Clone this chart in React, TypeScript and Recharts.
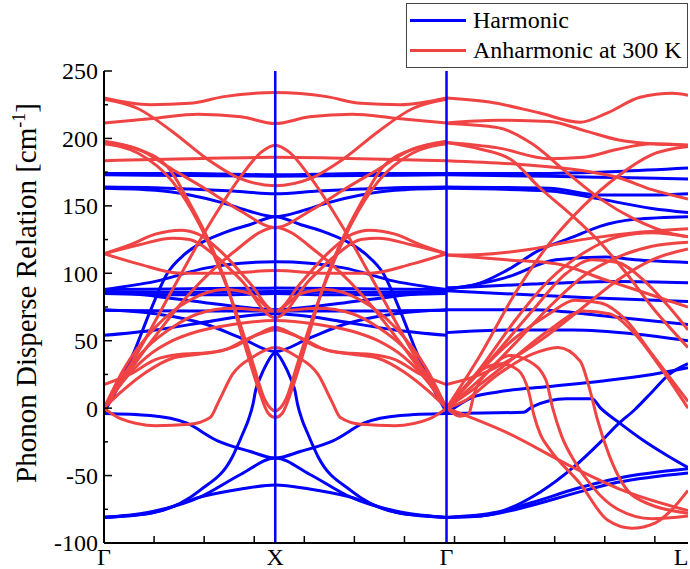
import React from 'react';
import { LineChart, Line, XAxis, YAxis, ReferenceLine } from 'recharts';

type Pt = [number, number];

// high-symmetry points along the path (x position) and their labels
const kPoints = [0, 1, 2, 3.41];
const kLabels = ['Γ', 'X', 'Γ', 'L'];
const yTicks = [-100, -75, -50, -25, 0, 25, 50, 75, 100, 125, 150, 175, 200, 225, 250];

// Γ -> X (X -> Γ is its mirror image)
const harmonicGX: Pt[][] = [
  [[0, 174], [0.5, 174], [1, 173]],
  [[0, 173], [0.5, 172.5], [1, 172]],
  [[0, 164], [0.3, 163.5], [0.5, 162.5], [0.75, 161], [1, 159]],
  [[0, 163], [0.3, 161.5], [0.5, 158], [0.7, 152], [0.85, 146], [1, 142]],
  [[0, -3], [0.08, 15], [0.17, 40], [0.27, 72], [0.37, 100], [0.47, 114], [0.56, 122], [0.7, 130], [0.85, 136], [1, 142]],
  [[0, 88], [0.3, 94], [0.6, 104], [0.8, 107.5], [1, 108.5]],
  [[0, 88], [0.5, 88.5], [1, 89]],
  [[0, 86], [0.5, 86], [1, 86.5]],
  [[0, 85], [0.4, 84], [0.7, 84], [1, 85]],
  [[0, 87], [0.3, 83], [0.6, 78], [0.8, 75], [1, 73]],
  [[0, 72.5], [0.5, 72], [1, 72]],
  [[0, 54], [0.3, 58], [0.6, 64], [0.8, 68], [1, 70]],
  [[0, 73], [0.3, 70], [0.6, 62], [0.8, 52], [1, 42]],
  [[0, -81], [0.27, -78], [0.56, -61], [0.75, -36], [0.81, -19], [0.845, -8], [0.87, 3], [0.885, 13], [0.91, 22], [0.95, 33], [1, 41]],
  [[0, -81], [0.3, -77], [0.56, -66], [0.8, -60], [1, -57]],
  [[0, -81], [0.27, -77], [0.56, -66], [0.8, -49], [1, -37]],
  [[0, -4], [0.27, -5.5], [0.48, -11], [0.66, -24], [0.85, -32], [1, -37]],
];

const anharmonicGX: Pt[][] = [
  [[0, 230], [0.27, 225], [0.5, 226], [0.7, 231], [1, 234]],
  [[0, 211.5], [0.3, 215], [0.55, 218], [0.8, 216], [1, 211]],
  [[0, 183.5], [0.5, 185], [1, 186]],
  [[0, 198], [0.2, 192], [0.4, 177], [0.6, 162], [0.8, 146], [1, 134]],
  [[0, 197], [0.17, 193], [0.37, 179], [0.5, 152], [0.62, 122], [0.72, 90], [0.81, 52], [0.9, 15], [0.96, -4], [1, -7]],
  [[0, 196], [0.2, 189], [0.4, 168], [0.55, 138], [0.67, 105], [0.78, 68], [0.87, 33], [0.94, 6], [1, -2]],
  [[0, 0], [0.2, 42], [0.4, 88], [0.6, 133], [0.8, 172], [0.92, 190], [1, 195]],
  [[0, 0], [0.25, 45], [0.5, 85], [0.75, 115], [1, 134]],
  [[0, 114.5], [0.2, 107], [0.45, 100], [0.7, 100], [1, 102]],
  [[0, 114.5], [0.15, 121], [0.3, 129], [0.45, 132], [0.55, 129], [0.7, 114], [0.85, 93], [1, 72]],
  [[0, 114.5], [0.2, 121], [0.4, 126], [0.5, 125], [0.65, 113], [0.8, 95], [1, 67]],
  [[0, 229], [0.2, 222], [0.4, 205], [0.6, 185], [0.8, 170], [1, 165]],
  [[0, 17.5], [0.15, 25], [0.3, 36], [0.45, 40], [0.6, 41], [0.75, 45], [0.9, 55], [1, 60]],
  [[0, 0], [0.1, 12], [0.25, 27], [0.4, 37], [0.55, 40], [0.7, 43], [0.85, 52], [1, 58]],
  [[0, 0], [0.1, 18], [0.25, 38], [0.4, 50], [0.55, 57], [0.75, 62], [1, 65]],
  [[0, 0], [0.1, 22], [0.25, 45], [0.4, 60], [0.55, 70], [0.75, 74], [1, 72]],
  [[0, 0], [0.12, 30], [0.3, 60], [0.5, 80], [0.7, 88], [0.85, 85], [1, 72]],
  [[0, 0], [0.1, -8], [0.3, -13], [0.5, -12], [0.62, -7], [0.67, 5], [0.75, 25], [0.87, 38], [1, 45]],
];

// Γ -> L
const harmonicGL: Pt[][] = [
  [[2, 174], [2.5, 174], [3, 175.5], [3.41, 178]],
  [[2, 173], [2.6, 172], [3, 171], [3.41, 170]],
  [[2, 164], [2.6, 163], [2.9, 158], [3.2, 158], [3.41, 159]],
  [[2, 163], [2.6, 161], [2.9, 155], [3.2, 148], [3.41, 145]],
  [[2, 89], [2.15, 91], [2.35, 102], [2.54, 117], [2.74, 127], [2.9, 135], [3.1, 140], [3.41, 142]],
  [[2, 88], [2.35, 97], [2.64, 110], [2.93, 112], [3.1, 110], [3.41, 108]],
  [[2, 89], [2.5, 92], [3, 94], [3.41, 93]],
  [[2, 87], [2.8, 82], [3.41, 79]],
  [[2, 73], [2.5, 73], [2.95, 68], [3.41, 62]],
  [[2, 56], [2.35, 58], [2.74, 58], [3.1, 55], [3.41, 50]],
  [[2, -81], [2.2, -80], [2.5, -70], [2.75, -60], [3, -52], [3.41, -45]],
  [[2, -81], [2.2, -80], [2.5, -72], [2.75, -63], [3, -55], [3.41, -48]],
  [[2, -81], [2.3, -77], [2.55, -62], [2.74, -44], [2.9, -25], [3, -12], [3.1, -1], [3.2, 12], [3.3, 25], [3.41, 33]],
  [[2, -4], [2.45, -3], [2.5, 1], [2.7, 7], [2.85, 7], [2.9, 0], [3, -10], [3.15, -24], [3.3, -36], [3.41, -44]],
  [[2, -4], [2.15, 8], [2.3, 12], [2.6, 16], [2.9, 20], [3.2, 25], [3.41, 30]],
];

const anharmonicGL: Pt[][] = [
  [[2, 230], [2.25, 227], [2.54, 219], [2.78, 212], [2.94, 219], [3.13, 230.5], [3.32, 233.5], [3.41, 232]],
  [[2, 211.5], [2.3, 213.5], [2.6, 212.5], [2.8, 206], [3, 199], [3.2, 196], [3.41, 195]],
  [[2, 197], [2.3, 193], [2.6, 185], [2.8, 186], [3, 192], [3.2, 196], [3.41, 195]],
  [[2, 183.5], [2.4, 181], [2.8, 176], [3, 171], [3.2, 162], [3.41, 155]],
  [[2, 197], [2.2, 192], [2.38, 184], [2.54, 164], [2.74, 142], [2.88, 125], [3.05, 100], [3.2, 75], [3.41, 45]],
  [[2, 211], [2.3, 208], [2.5, 196], [2.7, 175], [2.9, 155], [3.1, 140], [3.3, 130], [3.41, 127]],
  [[2, 113.5], [2.2, 114], [2.5, 118], [2.7, 123], [2.9, 127], [3.1, 130], [3.41, 133]],
  [[2, 113.5], [2.35, 110], [2.64, 107], [2.93, 95], [3.1, 88], [3.41, 75]],
  [[2, 0], [2.2, 30], [2.4, 65], [2.6, 95], [2.8, 115], [3, 127], [3.2, 130], [3.41, 127]],
  [[2, 0], [2.2, 22], [2.4, 48], [2.6, 75], [2.8, 98], [3, 112], [3.2, 120], [3.41, 123]],
  [[2, 0], [2.2, 40], [2.4, 85], [2.6, 122], [2.8, 150], [3, 172], [3.2, 188], [3.41, 194]],
  [[2, 17.5], [2.2, 25], [2.4, 38], [2.6, 55], [2.8, 75], [3, 95], [3.2, 110], [3.41, 118]],
  [[2, 0], [2.2, 28], [2.4, 52], [2.6, 70], [2.75, 80], [2.9, 78], [3.05, 65], [3.2, 40], [3.41, 5]],
  [[2, 0], [2.2, 18], [2.4, 38], [2.6, 58], [2.8, 72], [2.95, 70], [3.1, 55], [3.25, 30], [3.41, 0]],
  [[2, 0], [2.25, 35], [2.5, 72], [2.7, 100], [2.85, 110], [3, 108], [3.15, 95], [3.3, 75], [3.41, 58]],
  [[2, 0], [2.35, -18], [2.74, -44], [3.03, -61], [3.41, -76]],
  [[2, 0], [2.1, 15], [2.2, 28], [2.32, 33], [2.42, 28], [2.48, 12], [2.51, -5], [2.55, -20], [2.6, -30], [2.78, -56], [2.94, -83], [3.08, -89], [3.22, -85], [3.31, -76], [3.41, -61]],
  [[2, 0], [2.1, 5], [2.3, 25], [2.5, 40], [2.65, 45], [2.78, 35], [2.84, 12], [2.88, -8], [2.95, -35], [3.1, -66], [3.41, -78]],
  [[2, 0], [2.08, -6], [2.13, -4], [2.16, 10], [2.25, 28], [2.37, 39], [2.48, 35], [2.58, 21], [2.62, 0], [2.67, -20], [2.75, -40], [2.85, -58], [3, -75], [3.2, -82], [3.41, -80]],
];

const BLUE = '#0000FF';
const RED = '#F04444';
const FONT = '"Liberation Serif", "Times New Roman", serif';

const W = 690;
const H = 569;
const PL = 104; // plot left
const PT = 71; // plot top
const PB = 543; // plot bottom

// tick marks every 50 px along the path axis
const xMarks = Array.from({ length: 12 }, (_, i) => (i * 50) / 171);
const xTicks = [...xMarks, 1, 2, 3.41].sort((a, b) => a - b);

const near = (a: number, list: number[]) => list.findIndex((b) => Math.abs(a - b) < 1e-3);

// Γ-X band + its mirror X-Γ
const mirrored = (pts: Pt[]) => {
  const back = pts.slice(0, -1).reverse().map(([u, v]) => [2 - u, v] as Pt);
  return [...pts, ...back].map(([x, y]) => ({ x, y }));
};
const plain = (pts: Pt[]) => pts.map(([x, y]) => ({ x, y }));

const YTick = (p: any) => {
  const v = p.payload.value;
  const major = v % 50 === 0;
  return (
    <g>
      <line x1={PL} x2={PL + (major ? 8 : 4)} y1={p.y} y2={p.y} stroke="#000" strokeWidth={1.5} />
      {major && (
        <text x={PL - 6} y={p.y} dy="0.35em" textAnchor="end" fontFamily={FONT} fontSize={24} fill="#000">
          {v}
        </text>
      )}
    </g>
  );
};

const BottomTick = (p: any) => {
  const v = p.payload.value;
  const k = near(v, kPoints);
  return (
    <g>
      {near(v, xMarks) >= 0 && <line x1={p.x} x2={p.x} y1={PB} y2={PB - 7} stroke="#000" strokeWidth={1.5} />}
      {k >= 0 && (
        <text x={Math.min(p.x, W - 9)} y={H - 4} textAnchor="middle" fontFamily={FONT} fontSize={24} fill="#000">
          {kLabels[k]}
        </text>
      )}
    </g>
  );
};

const TopTick = (p: any) => (
  <line x1={p.x} x2={p.x} y1={PT} y2={PT + 7} stroke="#000" strokeWidth={1.5} />
);

const YTitle = () => (
  <text
    x={36}
    y={293}
    transform="rotate(-90 36 293)"
    textAnchor="middle"
    fontFamily={FONT}
    fontSize={29}
    fill="#000"
  >
    Phonon Disperse Relation [cm<tspan dy={-11} fontSize={18}>-1</tspan>
    <tspan dy={11}>]</tspan>
  </text>
);

export default function App() {
  const bands = (list: Pt[][], color: string, build: (p: Pt[]) => { x: number; y: number }[], key: string) =>
    list.map((pts, i) => (
      <Line
        key={key + i}
        data={build(pts)}
        dataKey="y"
        xAxisId="b"
        yAxisId="l"
        type="monotone"
        stroke={color}
        strokeWidth={3}
        dot={false}
        activeDot={false}
        legendType="none"
        isAnimationActive={false}
      />
    ));

  return (
    <div style={{ position: 'absolute', left: 0, top: 0, width: W, height: H, background: '#fff' }}>
      <LineChart width={W} height={H} margin={{ top: PT, right: 2, bottom: 0, left: 0 }}>
        <XAxis
          xAxisId="b"
          type="number"
          dataKey="x"
          domain={[0, 3.41]}
          ticks={xTicks}
          interval={0}
          height={H - PB}
          tickLine={false}
          tick={<BottomTick />}
          axisLine={{ stroke: '#000', strokeWidth: 2 }}
          allowDataOverflow
        />
        <XAxis
          xAxisId="t"
          orientation="top"
          type="number"
          domain={[0, 3.41]}
          ticks={xMarks}
          interval={0}
          height={0}
          tickLine={false}
          tick={<TopTick />}
          axisLine={{ stroke: '#000', strokeWidth: 2 }}
        />
        <YAxis
          yAxisId="l"
          type="number"
          domain={[-100, 250]}
          ticks={yTicks}
          interval={0}
          width={PL}
          tickLine={false}
          tick={<YTick />}
          axisLine={{ stroke: '#000', strokeWidth: 2 }}
          label={() => <YTitle />}
          allowDataOverflow
        />
        <YAxis
          yAxisId="r"
          orientation="right"
          type="number"
          domain={[-100, 250]}
          width={0}
          tick={false}
          tickLine={false}
          axisLine={{ stroke: '#000', strokeWidth: 2 }}
        />
        {bands(harmonicGX, BLUE, mirrored, 'hgx')}
        {bands(harmonicGL, BLUE, plain, 'hgl')}
        {bands(anharmonicGX, RED, mirrored, 'agx')}
        {bands(anharmonicGL, RED, plain, 'agl')}
        <ReferenceLine x={kPoints[1]} xAxisId="b" yAxisId="l" stroke={BLUE} strokeWidth={2.5} />
        <ReferenceLine x={kPoints[2]} xAxisId="b" yAxisId="l" stroke={BLUE} strokeWidth={2.5} />
      </LineChart>
      <div
        style={{
          position: 'absolute',
          left: 406,
          top: 3,
          width: 280,
          height: 63,
          border: '1px solid #444',
          background: '#fff',
          fontFamily: FONT,
          fontSize: 24,
          color: '#000',
        }}
      >
        {[
          ['Harmonic', BLUE],
          ['Anharmonic at 300 K', RED],
        ].map(([name, c], i) => (
          <div key={name} style={{ position: 'absolute', left: 3, top: i * 30 + 1, height: 30, display: 'flex', alignItems: 'center' }}>
            <div style={{ width: 56, height: 3, background: c, marginRight: 7 }} />
            <span>{name}</span>
          </div>
        ))}
      </div>
    </div>
  );
}
